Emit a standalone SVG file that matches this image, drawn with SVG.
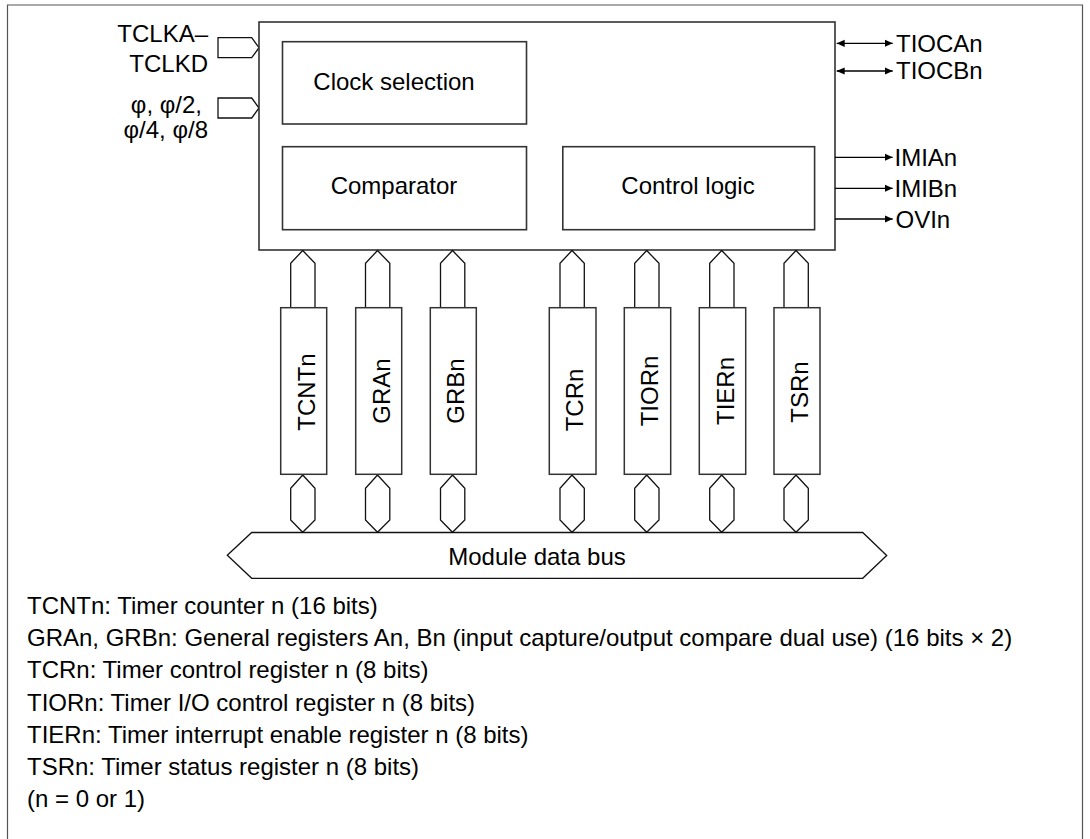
<svg xmlns="http://www.w3.org/2000/svg" width="1090" height="839" viewBox="0 0 1090 839">
<defs>
<marker id="ah" viewBox="0 0 8 8" refX="8" refY="4" markerWidth="8" markerHeight="8" markerUnits="userSpaceOnUse" orient="auto-start-reverse">
<path d="M0,0.4 L8,4 L0,7.6 Z" fill="#000"/>
</marker>
<style>
text{font-family:"Liberation Sans",Arial,sans-serif;font-size:24px;fill:#000}
.box{fill:#fff;stroke:#333;stroke-width:1.6}
.reg{fill:#fff;stroke:#333;stroke-width:1.5}
.con{fill:#fff;stroke:#111;stroke-width:1.3}
.sig{stroke:#000;stroke-width:1.3;fill:none}
.frame{fill:none;stroke:#555;stroke-width:1.2}
.m{text-anchor:middle}
.e{text-anchor:end}
</style>
</defs>
<rect width="1090" height="839" fill="#fff"/>
<path class="frame" d="M7.5,839 V5 H1082.5 V839"/>

<g id="inputs">
<path class="con" d="M218,37.7 H251.7 L259,47.7 L251.7,57.7 H218 Z"/>
<path class="con" d="M218,98 H251.7 L259,108 L251.7,118 H218 Z"/>
<text class="e" x="208" y="42.3">TCLKA–</text>
<text class="e" x="208" y="72.3">TCLKD</text>
<text class="e" x="202" y="113.3">φ, φ/2,</text>
<text class="e" x="208" y="138.3">φ/4, φ/8</text>
</g>

<g id="timer">
<rect class="box" x="259" y="22" width="576" height="228"/>
</g>
<g id="clock-selection">
<rect class="box" x="282.5" y="41.7" width="244" height="82.3"/>
<text class="m" x="394" y="89.5">Clock selection</text>
</g>
<g id="comparator">
<rect class="box" x="282.5" y="146.7" width="244" height="83"/>
<text class="m" x="394" y="194">Comparator</text>
</g>
<g id="control-logic">
<rect class="box" x="562.8" y="146.7" width="251.8" height="83"/>
<text class="m" x="688" y="194">Control logic</text>
</g>

<g id="connectors">
<line class="sig" x1="836.7" y1="43.3" x2="892.7" y2="43.3" marker-start="url(#ah)" marker-end="url(#ah)"/>
<line class="sig" x1="836.7" y1="71" x2="892.7" y2="71" marker-start="url(#ah)" marker-end="url(#ah)"/>
<line class="sig" x1="835" y1="157.3" x2="892.7" y2="157.3" marker-end="url(#ah)"/>
<line class="sig" x1="835" y1="188.3" x2="892.7" y2="188.3" marker-end="url(#ah)"/>
<line class="sig" x1="835" y1="219" x2="892.7" y2="219" marker-end="url(#ah)"/>
<g id="reg-links">
<path class="con" d="M290.7,307.7 V263.3 L302.7,250.5 L315,263.3 V307.7"/>
<path class="con" d="M365.5,307.7 V263.3 L377.5,250.5 L389.8,263.3 V307.7"/>
<path class="con" d="M440.5,307.7 V263.3 L452.5,250.5 L464.8,263.3 V307.7"/>
<path class="con" d="M560,307.7 V263.3 L572,250.5 L584.3,263.3 V307.7"/>
<path class="con" d="M634.7,307.7 V263.3 L646.7,250.5 L659,263.3 V307.7"/>
<path class="con" d="M709.7,307.7 V263.3 L721.7,250.5 L734,263.3 V307.7"/>
<path class="con" d="M784,307.7 V263.3 L796,250.5 L808.3,263.3 V307.7"/>
<path class="con" d="M302.7,475 L315,488.3 V520 L302.7,532.3 L290.7,520 V488.3 Z"/>
<path class="con" d="M377.5,475 L389.8,488.3 V520 L377.5,532.3 L365.5,520 V488.3 Z"/>
<path class="con" d="M452.5,475 L464.8,488.3 V520 L452.5,532.3 L440.5,520 V488.3 Z"/>
<path class="con" d="M572,475 L584.3,488.3 V520 L572,532.3 L560,520 V488.3 Z"/>
<path class="con" d="M646.7,475 L659,488.3 V520 L646.7,532.3 L634.7,520 V488.3 Z"/>
<path class="con" d="M721.7,475 L734,488.3 V520 L721.7,532.3 L709.7,520 V488.3 Z"/>
<path class="con" d="M796,475 L808.3,488.3 V520 L796,532.3 L784,520 V488.3 Z"/>
</g>
</g>

<g id="outputs">
<text x="896" y="51.7">TIOCAn</text>
<text x="896" y="79.3">TIOCBn</text>
<text x="894.5" y="165.7">IMIAn</text>
<text x="894.5" y="196.7">IMIBn</text>
<text x="895.5" y="228">OVIn</text>
</g>

<g id="TCNTn"><rect class="reg" x="280.7" y="307.7" width="46" height="166.6"/><text class="m" transform="translate(314.5,392) rotate(-90)">TCNTn</text></g>
<g id="GRAn"><rect class="reg" x="355.7" y="307.7" width="46" height="166.6"/><text class="m" transform="translate(389.5,391) rotate(-90)">GRAn</text></g>
<g id="GRBn"><rect class="reg" x="430.3" y="307.7" width="46" height="166.6"/><text class="m" transform="translate(464,391) rotate(-90)">GRBn</text></g>
<g id="TCRn"><rect class="reg" x="549.3" y="307.7" width="46.7" height="166.6"/><text class="m" transform="translate(583,400) rotate(-90)">TCRn</text></g>
<g id="TIORn"><rect class="reg" x="624.3" y="307.7" width="46.4" height="166.6"/><text class="m" transform="translate(658,391) rotate(-90)">TIORn</text></g>
<g id="TIERn"><rect class="reg" x="699.3" y="307.7" width="46.4" height="166.6"/><text class="m" transform="translate(733.5,391) rotate(-90)">TIERn</text></g>
<g id="TSRn"><rect class="reg" x="774" y="307.7" width="46" height="166.6"/><text class="m" transform="translate(807.5,392) rotate(-90)">TSRn</text></g>

<g id="bus">
<path class="con" d="M227.3,555.3 L251.7,532.5 H862.7 L886.7,555.5 L862.7,578.3 H251.7 Z"/>
<text class="m" x="537" y="565">Module data bus</text>
</g>

<g id="legend">
<text x="27" y="614">TCNTn: Timer counter n (16 bits)</text>
<text x="27" y="646">GRAn, GRBn: General registers An, Bn (input capture/output compare dual use) (16 bits × 2)</text>
<text x="27" y="678.3">TCRn: Timer control register n (8 bits)</text>
<text x="27" y="710.5">TIORn: Timer I/O control register n (8 bits)</text>
<text x="27" y="742.5">TIERn: Timer interrupt enable register n (8 bits)</text>
<text x="27" y="774.5">TSRn: Timer status register n (8 bits)</text>
<text x="27" y="806.7">(n = 0 or 1)</text>
</g>
</svg>
